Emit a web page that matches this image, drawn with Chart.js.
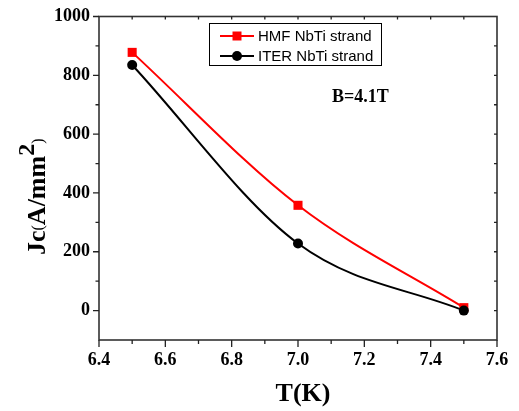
<!DOCTYPE html>
<html>
<head>
<meta charset="utf-8">
<script src="https://cdn.jsdelivr.net/npm/chart.js@4/dist/chart.umd.min.js"></script>
<style>
html,body{margin:0;padding:0;background:#fff;}
#wrap{width:519px;height:411px;position:relative;}
</style>
</head>
<body>
<div id="wrap"><canvas id="c" width="519" height="411"></canvas></div>
<script>
// ---- data ----
const temperatures = [6.5, 7.0, 7.5];
const hmfJc = [878, 358, 10];
const iterJc = [835, 228, 0];
const xTickLabels = [6.4, 6.6, 6.8, 7.0, 7.2, 7.4, 7.6];
const yTickLabels = [0, 200, 400, 600, 800, 1000];
const seriesNames = ['HMF NbTi strand', 'ITER NbTi strand'];
const fieldLabel = 'B=4.1T';

const SERIF = '"Liberation Serif","Times New Roman",serif';
const SANS = '"Liberation Sans",Arial,sans-serif';

const framePlugin = {
  id: 'frame',
  afterDraw(chart) {
    const ctx = chart.ctx;
    const xs = chart.scales.x, ys = chart.scales.y;
    const a = chart.chartArea;
    ctx.save();
    // frame
    ctx.strokeStyle = '#333';
    ctx.lineWidth = 1.6;
    ctx.strokeRect(a.left, a.top, a.right - a.left, a.bottom - a.top);
    ctx.lineWidth = 1.3;
    ctx.strokeStyle = '#222';
    ctx.beginPath();
    // x ticks
    for (let i = 0; i <= 12; i++) {
      const v = xs.min + i * 0.1;
      const px = xs.getPixelForValue(v);
      const major = (i % 2 === 0);
      const len = major ? 7 : 4;
      ctx.moveTo(px, a.bottom); ctx.lineTo(px, a.bottom + len);
      if (i > 0 && i < 12) { ctx.moveTo(px, a.top); ctx.lineTo(px, a.top + 3); }
    }
    // y ticks
    for (let v = 0; v <= 1000; v += 100) {
      const py = ys.getPixelForValue(v);
      const major = (v % 200 === 0);
      const len = major ? 6 : 3.5;
      ctx.moveTo(a.left, py); ctx.lineTo(a.left - len, py);
      if (v < 1000) { ctx.moveTo(a.right, py); ctx.lineTo(a.right - 3, py); }
    }
    ctx.stroke();

    // legend
    const lx = 209, ly = 23, lw = 172, lh = 42;
    ctx.lineWidth = 1;
    ctx.strokeStyle = '#000';
    ctx.strokeRect(lx + 0.5, ly + 0.5, lw, lh);
    const rows = [
      {name: seriesNames[0], color: '#ff0000', style: 'rect', y: 36},
      {name: seriesNames[1], color: '#000000', style: 'circle', y: 56}
    ];
    rows.forEach(r => {
      ctx.strokeStyle = r.color; ctx.fillStyle = r.color; ctx.lineWidth = 2;
      ctx.beginPath(); ctx.moveTo(220, r.y); ctx.lineTo(254, r.y); ctx.stroke();
      ctx.beginPath();
      if (r.style === 'rect') ctx.rect(237 - 4.5, r.y - 4.5, 9, 9);
      else ctx.arc(237, r.y, 5, 0, Math.PI * 2);
      ctx.fill();
      ctx.fillStyle = '#000';
      ctx.font = '15px ' + SANS;
      ctx.textBaseline = 'middle';
      ctx.textAlign = 'left';
      ctx.fillText(r.name, 258, r.y + 1);
    });

    // annotation
    ctx.fillStyle = '#000';
    ctx.font = 'bold 18px ' + SERIF;
    ctx.textAlign = 'left';
    ctx.textBaseline = 'alphabetic';
    ctx.fillText(fieldLabel, 332, 102);

    // x title
    ctx.font = 'bold 26px ' + SERIF;
    ctx.textAlign = 'center';
    ctx.fillText('T(K)', 303, 401);

    // y title (rotated, with superscript)
    ctx.save();
    ctx.translate(45, 255);
    ctx.rotate(-Math.PI / 2);
    ctx.textAlign = 'left';
    let x = 0;
    const parts = [
      {t: 'Jc', f: 'bold 26px ' + SERIF, dy: 0},
      {t: '(', f: '16px ' + SERIF, dy: -2},
      {t: 'A/mm', f: 'bold 26px ' + SERIF, dy: 0},
      {t: '2', f: 'bold 24px ' + SERIF, dy: -11},
      {t: ')', f: '16px ' + SERIF, dy: -2}
    ];
    parts.forEach(p => {
      ctx.font = p.f;
      ctx.fillText(p.t, x, p.dy);
      x += ctx.measureText(p.t).width;
    });
    ctx.restore();
    ctx.restore();
  }
};

const toPoints = (xsArr, ysArr) => xsArr.map((v, i) => ({x: v, y: ysArr[i]}));

new Chart(document.getElementById('c'), {
  type: 'line',
  data: {
    datasets: [
      {
        label: seriesNames[0],
        data: toPoints(temperatures, hmfJc),
        borderColor: '#ff0000', backgroundColor: '#ff0000',
        borderWidth: 2, pointStyle: 'rect', pointRadius: 6.4,
        pointBorderWidth: 0, cubicInterpolationMode: 'monotone', order: 1, clip: false
      },
      {
        label: seriesNames[1],
        data: toPoints(temperatures, iterJc),
        borderColor: '#000000', backgroundColor: '#000000',
        borderWidth: 2, pointStyle: 'circle', pointRadius: 5,
        pointBorderWidth: 0, cubicInterpolationMode: 'monotone', order: 0, clip: false
      }
    ]
  },
  options: {
    responsive: false,
    animation: false,
    events: [],
    layout: {padding: {top: 16.5, right: 22, left: 0, bottom: 0}},
    plugins: {legend: {display: false}, tooltip: {enabled: false}},
    scales: {
      x: {
        type: 'linear', min: 6.4, max: 7.6,
        grid: {display: false, drawTicks: false}, border: {display: false},
        afterBuildTicks: s => { s.ticks = xTickLabels.map(v => ({value: v})); },
        afterFit: s => { s.height = 71; s.paddingLeft = 0; s.paddingRight = 0; },
        ticks: {
          padding: 10, color: '#000', maxRotation: 0, autoSkip: false,
          font: {family: SERIF, size: 18, weight: 'bold'},
          callback: v => Number(v).toFixed(1)
        }
      },
      y: {
        type: 'linear', min: -100, max: 1000,
        grid: {display: false, drawTicks: false}, border: {display: false},
        afterBuildTicks: s => { s.ticks = yTickLabels.map(v => ({value: v})); },
        afterFit: s => { s.width = 99; s.paddingTop = 0; s.paddingBottom = 0; },
        ticks: {
          padding: 9, color: '#000', autoSkip: false,
          font: {family: SERIF, size: 18, weight: 'bold'},
          callback: v => String(v)
        }
      }
    }
  },
  plugins: [framePlugin]
});
</script>
</body>
</html>
